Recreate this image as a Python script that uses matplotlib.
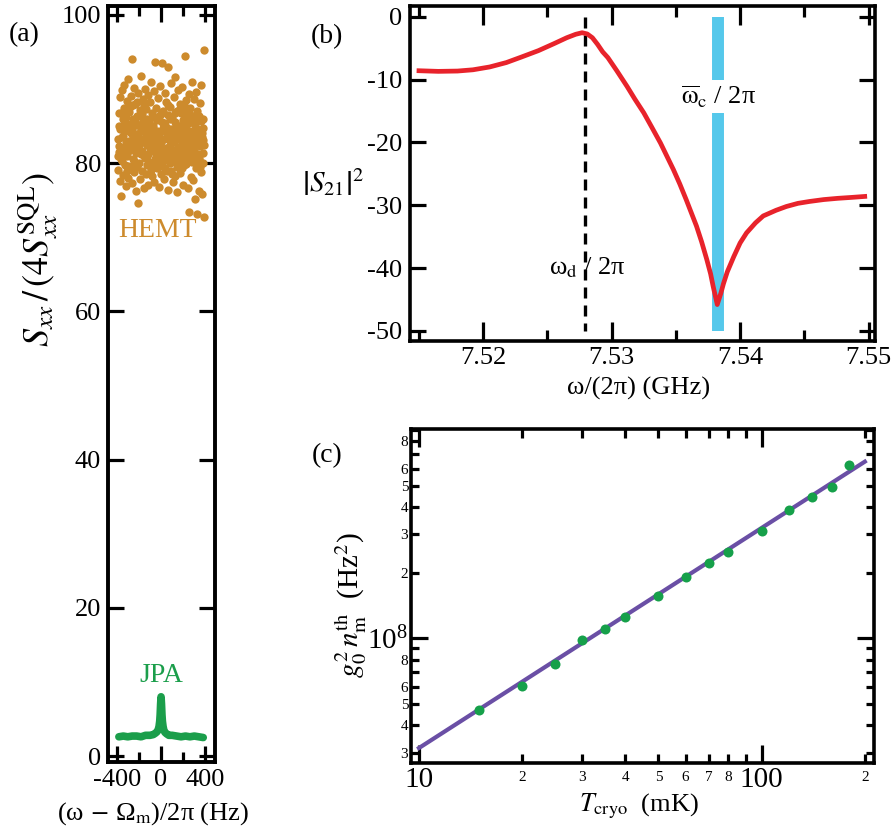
import matplotlib
matplotlib.use('Agg')
import matplotlib.pyplot as plt

plt.rcParams['font.family'] = ['Liberation Serif', 'DejaVu Serif']
plt.rcParams['mathtext.fontset'] = 'stix'
plt.rcParams['axes.unicode_minus'] = False

SERIF = ['Liberation Serif', 'DejaVu Serif']

# ---------------- data: panel (a) ----------------
hemt_x = [-388, -384, -380, -377, -372, -369, -365, -362, -358, -355, -351, -347, -344, -340, -337, -333,
          -330, -326, -323, -319, -316, -312, -309, -305, -302, -298, -295, -291, -288, -284, -281, -277,
          -274, -270, -266, -263, -259, -256, -252, -249, -245, -242, -238, -235, -231, -228, -224, -221,
          -217, -214, -212, -208, -205, -201, -198, -194, -191, -187, -184, -180, -177, -173, -170, -166,
          -163, -159, -156, -152, -149, -145, -142, -138, -135, -131, -128, -124, -121, -117, -114, -110,
          -107, -103, -100, -96, -93, -89, -86, -82, -79, -75, -72, -68, -65, -61, -58, -55,
          -51, -48, -44, -41, -37, -34, -30, -27, -23, -20, -16, -13, -9, -6, -2, 1,
          5, 8, 12, 15, 19, 22, 26, 29, 33, 36, 40, 43, 47, 50, 54, 57,
          61, 64, 67, 71, 74, 78, 81, 85, 88, 92, 95, 99, 102, 106, 109, 113,
          116, 120, 123, 127, 130, 134, 137, 141, 144, 148, 151, 155, 158, 162, 165, 169,
          172, 176, 179, 183, 186, 190, 193, 197, 200, 204, 207, 211, 214, 218, 221, 225,
          228, 232, 235, 239, 242, 246, 248, 251, 255, 258, 262, 265, 269, 272, 276, 279,
          283, 286, 290, 293, 297, 300, 304, 307, 311, 314, 318, 321, 325, 328, 332, 335,
          339, 342, 346, 349, 353, 356, 360, 363, 367, 370, 374, 377, 381, 384, 388,
          -383, -360, -341, -318, -296, -275, -254, -233, -211, -190, -169, -147, -126, -105, -84, -63,
          -42, -21, 0, 21, 42, 63, 84, 105, 126, 147, 168, 189, 210, 231, 252, 273,
          294, 315, 336, 357, 378,
          -376, -349, -327, -306, -283, -261, -240, -219, -197, -175, -154, -132, -112, -90, -69, -47,
          -25, -4, 17, 38, 59, 80, 101, 122, 143, 164, 185, 206, 227, 248, 269, 290,
          311, 332, 353, 374,
          -386, -366, -345, -324, -303, -282, -262, -241, -220, -199, -178, -158, -137, -116, -95, -74,
          -53, -33, -12, 9, 30, 51, 72, 93, 114, 134, 155, 176, 197, 218, 239, 260,
          281, 302, 323, 344, 365, 385]
hemt_y = [83.2, 79.1, 86.7, 81.5, 88.9, 77.6, 84.8, 75.6, 82.0, 89.8, 80.3, 85.9, 78.4, 83.7, 87.5, 81.1,
          90.6, 79.7, 84.3, 76.9, 86.2, 82.8, 88.4, 80.9, 84.9, 78.0, 91.4, 83.0, 86.9, 81.8, 79.2, 85.3,
          89.1, 82.4, 94.0, 77.3, 84.6, 87.8, 80.5, 83.6, 90.2, 78.8, 85.7, 82.2, 88.0, 76.2, 81.4, 86.4,
          83.9, 79.5, 74.6, 89.4, 82.6, 85.1, 80.0, 87.2, 83.3, 77.9, 91.8, 84.4, 81.2, 86.6, 79.0, 88.6,
          82.9, 85.5, 76.6, 83.1, 90.0, 80.7, 84.7, 87.3, 78.6, 82.5, 86.0, 81.0, 89.2, 83.8, 77.1, 85.4,
          80.2, 88.2, 82.1, 84.2, 79.8, 91.0, 83.5, 86.8, 78.2, 81.6, 85.0, 89.7, 82.7, 77.4, 84.1, 93.7,
          80.6, 87.4, 83.0, 79.3, 85.8, 82.3, 88.8, 81.3, 84.0, 76.8, 86.3, 80.1, 83.4, 90.4, 78.5, 82.8,
          85.6, 79.6, 93.5, 84.5, 81.7, 87.0, 83.2, 77.8, 89.5, 80.4, 85.2, 82.0, 88.3, 78.9, 84.8, 81.1,
          86.5, 76.4, 93.0, 83.7, 80.8, 87.6, 82.4, 85.9, 79.0, 90.8, 83.1, 81.5, 86.1, 77.5, 84.3, 88.9,
          80.3, 82.9, 85.5, 78.3, 91.6, 83.9, 81.0, 87.1, 84.6, 76.1, 82.2, 89.9, 80.0, 85.0, 83.3, 78.7,
          88.0, 81.9, 86.7, 84.0, 79.4, 90.3, 82.6, 85.8, 77.0, 83.6, 87.9, 80.5, 84.9, 94.4, 82.0, 88.5,
          79.9, 85.3, 81.4, 76.7, 86.9, 83.4, 73.4, 89.3, 80.9, 84.4, 82.1, 87.4, 78.1, 85.6, 90.9, 83.0,
          80.1, 86.3, 77.7, 84.2, 88.7, 81.6, 75.1, 85.1, 82.7, 89.6, 79.3, 84.6, 73.2, 87.0, 81.2, 83.8,
          76.3, 86.4, 80.4, 88.1, 82.3, 85.7, 78.8, 90.5, 83.5, 75.8, 86.0, 81.3, 84.7, 72.7, 95.3,
          85.0, 80.6, 86.9, 82.5, 79.6, 84.0, 86.0, 80.0, 83.9, 86.3, 81.6, 83.4, 79.8, 85.7, 81.9, 86.2,
          80.8, 83.5, 86.6, 80.6, 84.2, 82.0, 80.0, 83.0, 86.7, 81.3, 84.1, 87.5, 79.8, 83.3, 86.6, 80.7,
          82.4, 86.5, 79.9, 83.6, 80.0,
          82.3, 83.5, 85.3, 78.9, 87.6, 81.9, 83.0, 88.3, 82.4, 83.0, 87.9, 84.5, 82.7, 79.1, 84.0, 82.5,
          79.6, 81.5, 84.8, 79.4, 87.8, 84.4, 78.6, 81.8, 79.5, 87.2, 81.0, 82.8, 86.2, 81.8, 83.9, 80.4,
          84.2, 85.8, 79.5, 83.1,
          81.0, 84.6, 82.1, 85.5, 81.4, 84.3, 82.8, 80.3, 85.1, 81.5, 84.8, 80.9, 83.7, 81.2, 84.9, 82.6,
          80.2, 84.4, 82.0, 81.0, 85.4, 80.8, 83.2, 84.6, 81.7, 85.2, 80.6, 83.8, 81.9, 84.5, 80.5, 82.9,
          85.6, 81.1, 83.4, 80.7, 84.1, 82.5]

jpa_x = [-380, -340, -300, -260, -220, -180, -140, -100, -70, -50, -35, -25, -18, -12, -8, -4, 0,
         4, 8, 12, 18, 25, 35, 50, 70, 100, 140, 180, 220, 260, 300, 340, 380]
jpa_y = [2.6, 2.7, 2.6, 2.7, 2.7, 2.6, 2.8, 2.8, 2.9, 3.1, 3.3, 3.6, 4.0, 4.7, 5.6, 7.0, 8.0,
         7.0, 5.6, 4.7, 4.0, 3.5, 3.2, 3.0, 2.8, 2.8, 2.7, 2.6, 2.7, 2.6, 2.7, 2.6, 2.5]

# ---------------- data: panel (b) ----------------
s21_f = [7.5150, 7.5165, 7.5180, 7.5192, 7.5205, 7.5218, 7.5230, 7.5243, 7.5255, 7.5265,
         7.5272, 7.5277, 7.5281, 7.5285, 7.5289, 7.5293, 7.5297, 7.5304, 7.5312, 7.5318,
         7.5325, 7.5331, 7.5338, 7.5343, 7.5348, 7.5353, 7.5358, 7.5362, 7.5366, 7.5370,
         7.5374, 7.5377, 7.5379, 7.53822, 7.5385, 7.5387, 7.5390, 7.5395, 7.5400, 7.5405,
         7.5412, 7.5418, 7.5428, 7.5436, 7.5445, 7.5454, 7.5465, 7.5476, 7.5487, 7.5497]
s21_db = [-8.6, -8.7, -8.65, -8.45, -8.0, -7.3, -6.4, -5.4, -4.3, -3.35,
          -2.8, -2.55, -2.75, -3.35, -4.4, -5.6, -6.5, -8.6, -11.1, -13.1,
          -15.3, -17.5, -20.1, -22.2, -24.3, -26.6, -29.1, -31.2, -33.3, -35.8,
          -38.6, -40.9, -42.9, -45.8, -44.0, -42.5, -40.6, -38.2, -36.0, -34.4,
          -32.8, -31.7, -30.8, -30.2, -29.7, -29.4, -29.1, -28.9, -28.75, -28.6]
wd_freq = 7.5279
wc_freq = 7.53828
wc_bar_top = [0, -10.0]
wc_bar_bottom = [-15.4, -50]
wd_line = [0, -50]

# ---------------- data: panel (c) ----------------
t_cryo = [15, 20, 25, 30, 35, 40, 50, 60, 70, 80, 100, 120, 140, 160, 180]
g2n = [4.7e7, 6.05e7, 7.6e7, 9.8e7, 1.1e8, 1.25e8, 1.57e8, 1.91e8, 2.22e8, 2.5e8,
       3.1e8, 3.87e8, 4.45e8, 4.95e8, 6.2e8]
fit_t = [10, 200]
fit_g2n = [3.15e7, 6.45e8]

# colours
c_hemt = '#CD8B2D'
c_jpa = '#1B9E4B'
c_red = '#E8232B'
c_blue = '#55C8EB'
c_purple = '#6A4FA5'
c_green = '#16A04A'

W, H = 894, 831
fig = plt.figure(figsize=(W / 100, H / 100), dpi=100)


def box(l, t, r, b):
    return [l / W, 1 - b / H, (r - l) / W, (b - t) / H]


def style(ax, lw=2.6):
    for s in ax.spines.values():
        s.set_linewidth(lw)
    ax.tick_params(which='both', direction='in', top=True, right=True, width=2.3,
                   labelfontfamily=SERIF)


# ---------- (a) ----------
axa = fig.add_axes(box(108, 6, 215, 762))
style(axa, 2.8)
axa.plot(hemt_x, hemt_y, 'o', ms=6.0, color=c_hemt, mec='none')
axa.plot(jpa_x, jpa_y, color=c_jpa, lw=5.5, solid_capstyle='round', solid_joinstyle='round')
axa.set_xlim(-478, 486)
axa.set_ylim(-0.8, 101.2)
axa.set_xticks([-400, 0, 400], labels=['-400', '0', '400'])
axa.set_xticks([-200, 200], minor=True)
axa.set_yticks([0, 20, 40, 60, 80, 100], labels=['0', '20', '40', '60', '80', '100'])
axa.tick_params(which='major', length=11.5, labelsize=19, pad=5)
axa.tick_params(which='minor', length=7.5)
axa.text(-35, 70.9, 'HEMT', color=c_hemt, ha='center', va='center', fontsize=20)
axa.text(0, 10.9, 'JPA', color=c_jpa, ha='center', va='center', fontsize=20)
fig.text(38 / W, 1 - 260 / H, r'$S_{xx}\,/\,(4S_{xx}^{\mathrm{SQL}})$', rotation=90,
         ha='center', va='center', fontsize=26)
fig.text(153 / W, 1 - 814 / H, r'(ω$\,-\,$Ω$_{\mathrm{m}}$)/2π (Hz)', ha='center', va='center',
         fontsize=19)
fig.text(24 / W, 1 - 35 / H, '(a)', ha='center', va='center', fontsize=20)

# ---------- (b) ----------
axb = fig.add_axes(box(410, 6, 875, 341))
style(axb)
axb.plot([wc_freq, wc_freq], wc_bar_top, color=c_blue, lw=8.6, solid_capstyle='butt')
axb.plot([wc_freq, wc_freq], wc_bar_bottom, color=c_blue, lw=8.6, solid_capstyle='butt')
axb.plot([wd_freq, wd_freq], wd_line, color='black', lw=2.4, dashes=(3.3, 2.1))
axb.plot(s21_f, s21_db, color=c_red, lw=3.4, solid_joinstyle='round')
axb.set_xlim(7.5143, 7.5505)
axb.set_ylim(-51.6, 1.7)
axb.set_xticks([7.52, 7.53, 7.54, 7.55], labels=['7.52', '7.53', '7.54', '7.55'])
axb.set_xticks([7.515, 7.525, 7.535, 7.545], minor=True)
axb.set_yticks([0, -10, -20, -30, -40, -50], labels=['0', '-10', '-20', '-30', '-40', '-50'])
axb.tick_params(axis='x', which='major', length=13.7, labelsize=19, pad=4)
axb.tick_params(axis='x', which='minor', length=7.7)
axb.tick_params(axis='y', which='major', length=11.3, labelsize=19, pad=5.5)
axb.text(7.52811, -40.0, r'ω$_{\mathrm{d}}$ / 2π', ha='center', va='center', fontsize=19)
axb.text(wc_freq, -12.7, r'$\overline{\mathrm{ω}}_{\mathrm{c}}$ / 2π', ha='center', va='center',
         fontsize=19)
fig.text(333 / W, 1 - 182 / H, r'$\left|S_{21}\right|^2$', ha='center', va='center', fontsize=21)
fig.text(639 / W, 1 - 388 / H, 'ω/(2π) (GHz)', ha='center', va='center', fontsize=19)
fig.text(327 / W, 1 - 37 / H, '(b)', ha='center', va='center', fontsize=20)

# ---------- (c) ----------
axc = fig.add_axes(box(411, 429, 874, 763))
style(axc)
axc.set_xscale('log')
axc.set_yscale('log')
axc.plot(fit_t, fit_g2n, color=c_purple, lw=3)
axc.plot(t_cryo, g2n, 'o', ms=7.2, color=c_green, mec='none')
axc.set_xlim(9.48, 212.7)
axc.set_ylim(2.69e7, 9.1e8)
axc.set_xticks([10, 100], labels=['10', '100'])
axc.set_xticks([20, 30, 40, 50, 60, 70, 80, 90, 200],
               labels=['2', '3', '4', '5', '6', '7', '8', '', '2'], minor=True)
axc.set_yticks([1e8], labels=[r'$\mathregular{10^{8}}$'])
axc.set_yticks([3e7, 4e7, 5e7, 6e7, 7e7, 8e7, 9e7, 2e8, 3e8, 4e8, 5e8, 6e8, 7e8, 8e8, 9e8],
               labels=['3', '4', '5', '6', '', '8', '', '2', '3', '4', '5', '6', '', '8', ''],
               minor=True)
axc.tick_params(axis='x', which='major', length=12.7, labelsize=21, pad=3)
axc.tick_params(axis='x', which='minor', length=6.7, labelsize=11, pad=6)
axc.tick_params(axis='y', which='major', length=12, labelsize=21, pad=2)
axc.tick_params(axis='y', which='minor', length=6, labelsize=11, pad=2)
fig.text(351 / W, 1 - 605 / H, r'$g_0^2\,n_{\mathrm{m}}^{\mathrm{th}}$  (Hz$^2$)', rotation=90,
         ha='center', va='center', fontsize=21)
fig.text(639 / W, 1 - 806 / H, r'$T_{\mathrm{cryo}}$  (mK)', ha='center', va='center', fontsize=19)
fig.text(327 / W, 1 - 456 / H, '(c)', ha='center', va='center', fontsize=20)

fig.savefig('out.png', dpi=100)
